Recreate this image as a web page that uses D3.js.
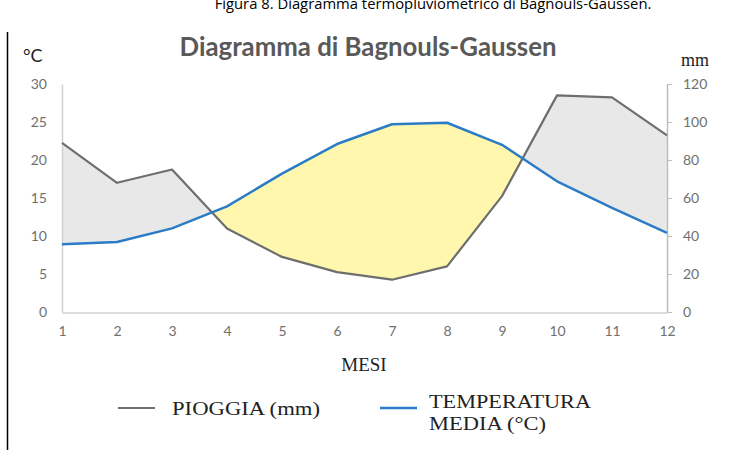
<!DOCTYPE html>
<html><head><meta charset="utf-8">
<script src="https://cdn.jsdelivr.net/npm/d3@7"></script>
<style>html,body{margin:0;padding:0;background:#fff;}svg{display:block;}</style>
</head><body>
<script>
const months = [1,2,3,4,5,6,7,8,9,10,11,12];
const temperature = [8.9, 9.2, 11.0, 13.9, 18.2, 22.1, 24.7, 24.9, 22.0, 17.2, 13.7, 10.4];
const rain = [89, 68, 75, 44, 29, 21, 17, 24, 61, 114, 113, 93];
const tempTicks = [0,5,10,15,20,25,30];
const rainTicks = [0,20,40,60,80,100,120];
const caption = "Figura 8. Diagramma termopluviometrico di Bagnouls-Gaussen.";
const title = "Diagramma di Bagnouls-Gaussen";

const W = 732, H = 450;
const svg = d3.select("body").append("svg").attr("width", W).attr("height", H);

const x = d3.scaleLinear().domain([1,12]).range([62,667]);
const yT = d3.scaleLinear().domain([0,30]).range([312,84]);
const yR = d3.scaleLinear().domain([0,120]).range([312,84]);

const data = months.map((m,i)=>({m, t: temperature[i], r: rain[i]}));

function fit(sel, target){
  const len = sel.node().getComputedTextLength();
  const fs = parseFloat(sel.attr("font-size"));
  sel.attr("font-size", fs * target / len);
}

// caption (cut at top edge as in the source)
const cap = svg.append("text").attr("x", 433).attr("y", 9).attr("text-anchor","middle")
  .attr("font-family","Open Sans, sans-serif").attr("font-size",16).attr("fill","#000").text(caption);
fit(cap, 437);

// left vertical border
svg.append("line").attr("x1",7.5).attr("x2",7.5).attr("y1",32).attr("y2",H).attr("stroke","#000").attr("stroke-width",1.5);

// clip paths
const defs = svg.append("defs");
defs.append("clipPath").attr("id","aboveT").append("path")
  .attr("d", d3.area().x(d=>x(d.m)).y0(0).y1(d=>yT(d.t))(data));
defs.append("clipPath").attr("id","belowT").append("path")
  .attr("d", d3.area().x(d=>x(d.m)).y0(H).y1(d=>yT(d.t))(data));

svg.append("path").attr("clip-path","url(#aboveT)")
  .attr("d", d3.area().x(d=>x(d.m)).y0(yR(0)).y1(d=>yR(d.r))(data))
  .attr("fill","#e8e8e8");
svg.append("path").attr("clip-path","url(#belowT)")
  .attr("d", d3.area().x(d=>x(d.m)).y0(0).y1(d=>yR(d.r))(data))
  .attr("fill","#fff7ad");

// axes
const axL = svg.append("g").attr("transform","translate(62,0)")
  .call(d3.axisLeft(yT).tickValues(tempTicks).tickSize(0).tickPadding(15));
const axR = svg.append("g").attr("transform","translate(667,0)")
  .call(d3.axisRight(yR).tickValues(rainTicks).tickSize(5).tickSizeOuter(0).tickPadding(11));
const axB = svg.append("g").attr("transform","translate(0,312.5)")
  .call(d3.axisBottom(x).tickValues(months).tickSize(0).tickPadding(14));
[axL, axR, axB].forEach(g=>{
  g.selectAll("text").attr("font-family","Lato, Open Sans, sans-serif").attr("font-size",14).attr("fill","#707070");
  g.select(".domain").attr("stroke","#d0d0d0").attr("stroke-width",1.5);
  g.selectAll(".tick line").attr("stroke","#bfbfbf");
});
axR.select(".domain").attr("stroke","#bdbdbd");

// lines
svg.append("path").attr("d", d3.line().x(d=>x(d.m)).y(d=>yR(d.r))(data))
  .attr("fill","none").attr("stroke","#6e6e6e").attr("stroke-width",2.2).attr("stroke-linejoin","round");
svg.append("path").attr("d", d3.line().x(d=>x(d.m)).y(d=>yT(d.t))(data))
  .attr("fill","none").attr("stroke","#2b7cc7").attr("stroke-width",2.5).attr("stroke-linejoin","round");

// title
const tt = svg.append("text").attr("x", 368).attr("y", 56).attr("text-anchor","middle")
  .attr("font-family","Lato, Open Sans, sans-serif").attr("font-weight","bold").attr("font-size",19)
  .attr("fill","#595959").text(title);
fit(tt, 377);

// unit labels
svg.append("text").attr("x",23).attr("y",62).attr("font-family","Lato, Open Sans, sans-serif")
  .attr("font-size",18).attr("fill","#222").text("°C");
svg.append("text").attr("x",681).attr("y",66).attr("font-family","Liberation Serif, serif")
  .attr("font-size",18).attr("fill","#222").text("mm");

// x axis title
svg.append("text").attr("x",364).attr("y",371).attr("text-anchor","middle")
  .attr("font-family","Liberation Serif, serif").attr("font-size",19).attr("fill","#222").text("MESI");

// legend
const lg = svg.append("g").attr("font-family","Liberation Serif, serif").attr("font-size",19).attr("fill","#222");
lg.append("line").attr("x1",118).attr("x2",155).attr("y1",408).attr("y2",408).attr("stroke","#6e6e6e").attr("stroke-width",2.2);
lg.append("text").attr("x",172).attr("y",415).attr("textLength",148).attr("lengthAdjust","spacingAndGlyphs").text("PIOGGIA (mm)");
lg.append("line").attr("x1",380).attr("x2",417).attr("y1",408).attr("y2",408).attr("stroke","#2b7cc7").attr("stroke-width",2.5);
lg.append("text").attr("x",429).attr("y",408).attr("textLength",162).attr("lengthAdjust","spacingAndGlyphs").text("TEMPERATURA");
lg.append("text").attr("x",429).attr("y",430).attr("textLength",117).attr("lengthAdjust","spacingAndGlyphs").text("MEDIA (°C)");
</script>
</body></html>
